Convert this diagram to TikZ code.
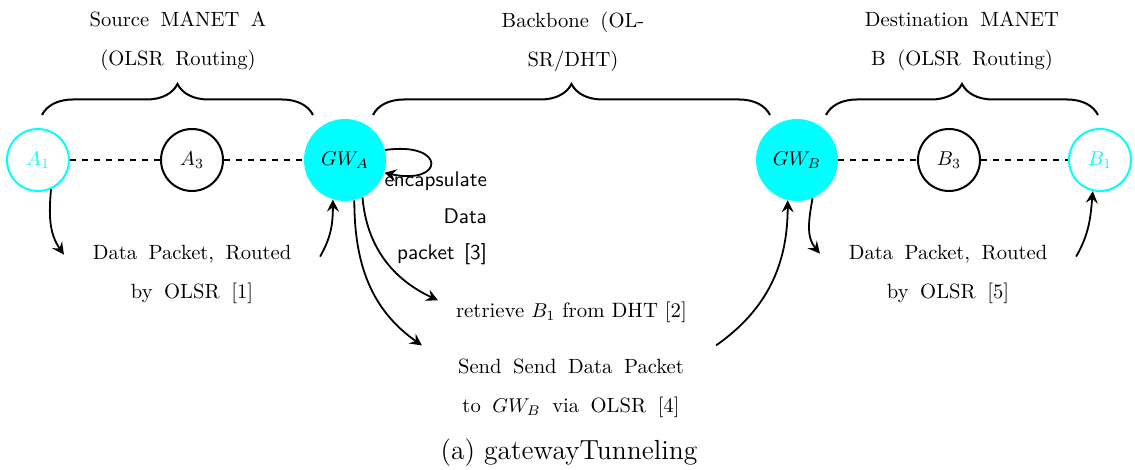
\documentclass[tikz,border=0pt]{standalone}
\usetikzlibrary{arrows.meta,decorations.pathreplacing}
\definecolor{gwcyan}{RGB}{0,255,255}
\begin{document}
\begin{tikzpicture}[x=0.5pt,y=0.5pt,
  host/.style={circle, draw, line width=1pt, minimum size=31pt, inner sep=0pt,
    font=\fontsize{10.3}{12}\selectfont},
  endhost/.style={host, draw=gwcyan, text=gwcyan},
  gateway/.style={circle, fill=gwcyan, minimum size=41pt, inner sep=0pt,
    font=\fontsize{10.3}{12}\selectfont},
  link/.style={dashed, line width=1pt},
  flow/.style={-{Stealth[length=6pt,width=6pt,inset=2.2pt]}, line width=0.9pt},
  span/.style={decorate, decoration={brace, amplitude=15.5pt}, line width=1pt},
  lbl/.style={align=center, font=\fontsize{10.3}{19.2}\selectfont,
    execute at begin node={\spaceskip=0.56em\relax}},
  sflbl/.style={align=right, font=\sffamily\fontsize{10.6}{18.2}\selectfont,
    execute at begin node={\spaceskip=0.45em\relax}},
  plain/.style={font=\fontsize{10.4}{12}\selectfont}]
\useasboundingbox (0,0) rectangle (1135,470);

% hosts and gateways
\node[endhost] (A1)  at (38,310)   {$A_1$};
\node[host]    (A3)  at (192,310)  {$A_3$};
\node[gateway] (GWA) at (345,310)  {$GW_A$};
\node[gateway] (GWB) at (797,310)  {$GW_B$};
\node[host]    (B3)  at (949,310)  {$B_3$};
\node[endhost] (B1)  at (1100,310) {$B_1$};

% wireless links inside each MANET
\draw[link] (A1) -- (A3) -- (GWA);
\draw[link] (GWB) -- (B3) -- (B1);

% network segments
\draw[span] (42,355) -- (313,355);
\draw[span] (373,355) -- (770,355);
\draw[span] (826,355) -- (1098,355);

\node[lbl, anchor=base, text width=110pt] (srcnet)   at (178,443) {Source MANET A\\(OLSR Routing)};
\node[lbl, anchor=base, text width=110pt] (backbone) at (573,442) {Backbone (OL-\\SR/DHT)};
\node[lbl, anchor=base, text width=120pt] (dstnet)   at (962,443) {Destination MANET\\B (OLSR Routing)};

% step labels
\node[lbl, anchor=base, text width=121pt] (lab1) at (192,210) {Data Packet, Routed\\by OLSR [1]};
\node[lbl, anchor=base, text width=121pt] (lab5) at (948,210) {Data Packet, Routed\\by OLSR [5]};
\node[sflbl, anchor=base east, text width=60pt] (encap) at (494,283) {encapsulate\\Data\\packet [3]};
\node[plain, anchor=base west] (ret) at (449,152) {retrieve $B_1$ from DHT [2]};
\node[lbl, anchor=base, text width=140pt] (send) at (571,96) {Send Send Data Packet\\to $GW_B$ via OLSR [4]};

\node[anchor=base, font=\fontsize{13.8}{16}\selectfont] (cap) at (569,10) {(a) gatewayTunneling};

% packet flow
\draw[flow] (A1.-66) to[out=-95,in=125] ([yshift=-8pt]lab1.north west);
\draw[flow] ([yshift=-9pt]lab1.north east) to[out=60,in=-90] (GWA.-107);
\draw[flow] (GWA.14) .. controls +(8:62) and +(-12:62) .. (GWA.-18);
\draw[flow] (GWA.-65) to[out=-85,in=155] ([xshift=-5.5pt,yshift=-2.5pt]ret.north west);
\draw[flow] (GWA.-77) to[out=-90,in=145] ([xshift=-1pt,yshift=3.5pt]send.north west);
\draw[flow] ([xshift=-1pt,yshift=3.5pt]send.north east) to[out=35,in=-90] (GWB.-103);
\draw[flow] (GWB.-68) to[out=-100,in=130] ([yshift=-7.5pt]lab5.north west);
\draw[flow] ([yshift=-9pt]lab5.north east) to[out=60,in=-95] (B1.-103);
\end{tikzpicture}
\end{document}
